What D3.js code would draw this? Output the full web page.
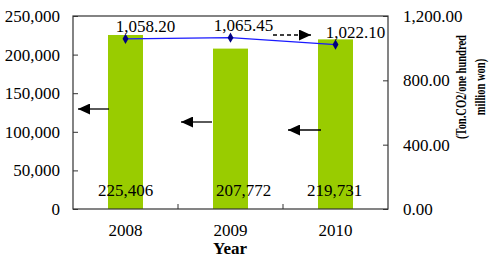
<!DOCTYPE html>
<html><head><meta charset="utf-8">
<script src="https://cdn.jsdelivr.net/npm/d3@7"></script>
<style>body{margin:0;background:#fff}svg{display:block}text{font-family:"Liberation Serif","Times New Roman",serif;fill:#000}</style>
</head><body>
<script>
const years = ["2008","2009","2010"];
const emissions = [225406, 207772, 219731];
const intensity = [1058.20, 1065.45, 1022.10];
const leftTicks = [0, 50000, 100000, 150000, 200000, 250000];
const rightTicks = [0, 400, 800, 1200];
const xTitle = "Year";
const yRightTitle = ["(Ton.CO2/one hundred", "million won)"];

const W = 491, H = 259;
const m = {l: 73, r: 388, t: 16, b: 209};
const svg = d3.select("body").append("svg").attr("width", W).attr("height", H);

const x = d3.scaleBand().domain(years).range([m.l, m.r]).paddingInner(0).paddingOuter(0);
const yL = d3.scaleLinear().domain([0, 250000]).range([m.b, m.t]);
const yR = d3.scaleLinear().domain([0, 1200]).range([m.b, m.t]);
const barW = 35;
const fmt0 = d3.format(",");
const fmt2 = d3.format(",.2f");
const fs = "17px";

// bars
svg.selectAll("rect.bar").data(emissions).enter().append("rect")
  .attr("x", (d,i) => x(years[i]) + x.bandwidth()/2 - barW/2)
  .attr("y", d => yL(d)).attr("width", barW).attr("height", d => m.b - yL(d))
  .attr("fill", "#99cc00");

// frame
svg.append("rect").attr("x", m.l).attr("y", m.t).attr("width", m.r-m.l).attr("height", m.b-m.t)
  .attr("fill","none").attr("stroke","#333").attr("stroke-width",1.2);

// left axis
const gL = svg.append("g").attr("transform", `translate(${m.l},0)`)
  .call(d3.axisLeft(yL).tickValues(leftTicks).tickFormat(fmt0).tickSize(-5).tickPadding(13));
gL.select(".domain").remove();
gL.selectAll("line").attr("stroke","#333");
gL.selectAll("text").style("font-size",fs);

// right axis
const gR = svg.append("g").attr("transform", `translate(${m.r},0)`)
  .call(d3.axisRight(yR).tickValues(rightTicks).tickFormat(fmt2).tickSize(-5).tickPadding(15));
gR.select(".domain").remove();
gR.selectAll("line").attr("stroke","#333");
gR.selectAll("text").style("font-size",fs);

// bottom axis
const gB = svg.append("g").attr("transform", `translate(0,${m.b})`)
  .call(d3.axisBottom(x).tickSize(0).tickPadding(15));
gB.select(".domain").remove();
gB.selectAll("text").style("font-size",fs);
// category separators
svg.selectAll("line.sep").data(years.slice(1)).enter().append("line")
  .attr("x1", d => x(d)).attr("x2", d => x(d)).attr("y1", m.b).attr("y2", m.b-5)
  .attr("stroke","#333");

// line
const cx = (i) => x(years[i]) + x.bandwidth()/2;
svg.append("path").datum(intensity)
  .attr("d", d3.line().x((d,i) => cx(i)).y(d => yR(d)))
  .attr("fill","none").attr("stroke","#1a1aff").attr("stroke-width",1.2);
svg.selectAll("path.mk").data(intensity).enter().append("path")
  .attr("d", d3.symbol(d3.symbolDiamond, 30))
  .attr("transform", (d,i) => `translate(${cx(i)},${yR(d)})`)
  .attr("fill","#000080");

// labels
const lineLabelDx = [20, 13, 20];
const barLabelDx = [0, 13, -1];
svg.selectAll("text.ll").data(intensity).enter().append("text")
  .attr("x", (d,i) => cx(i) + lineLabelDx[i]).attr("y", d => yR(d) - 6.5)
  .attr("text-anchor","middle").style("font-size",fs).text(d => fmt2(d));
svg.selectAll("text.bl").data(emissions).enter().append("text")
  .attr("x", (d,i) => cx(i) + barLabelDx[i]).attr("y", 196)
  .attr("text-anchor","middle").style("font-size",fs).text(d => fmt0(d));

// titles
svg.append("text").attr("x", 230).attr("y", 254).attr("text-anchor","middle")
  .style("font-size",fs).style("font-weight","bold").text(xTitle);
yRightTitle.forEach((t, i) => {
  svg.append("text").attr("transform", `translate(${466 + i*19},87) rotate(-90) scale(0.7,1)`)
    .attr("text-anchor","middle").style("font-size","15px").style("font-weight","bold")
    .text(t);
});

// arrows
const defs = svg.append("defs");
defs.append("marker").attr("id","ah").attr("viewBox","0 0 12 11").attr("refX",12).attr("refY",5.5)
  .attr("markerWidth",12).attr("markerHeight",11).attr("markerUnits","userSpaceOnUse").attr("orient","auto")
  .append("path").attr("d","M0,0L12,5.5L0,11Z").attr("fill","#000");
const arrows = [
  {x1:109, x2:78, y:109, dash:null},
  {x1:212, x2:181, y:122, dash:null},
  {x1:321, x2:288, y:130, dash:null},
  {x1:273, x2:311, y:35, dash:"4,3"}
];
arrows.forEach(a => {
  svg.append("line").attr("x1",a.x1).attr("x2",a.x2).attr("y1",a.y).attr("y2",a.y)
    .attr("stroke","#000").attr("stroke-width",1.3).attr("stroke-dasharray",a.dash)
    .attr("marker-end","url(#ah)");
});
</script>
</body></html>
